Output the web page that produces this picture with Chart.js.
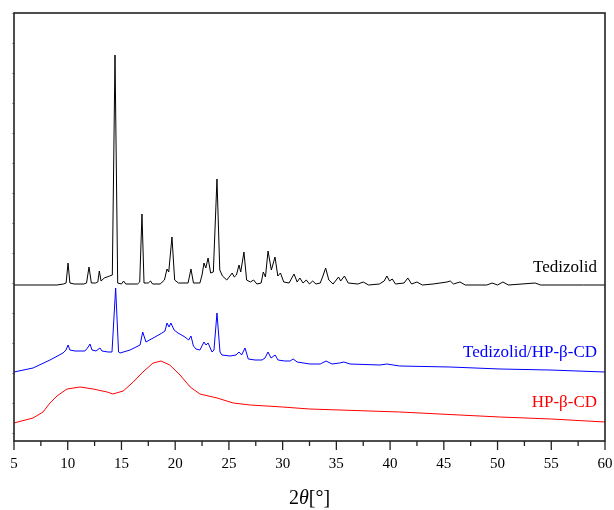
<!DOCTYPE html>
<html>
<head>
<meta charset="utf-8">
<script src="https://cdn.jsdelivr.net/npm/chart.js@4.4.0/dist/chart.umd.min.js"></script>
<style>
  html, body { margin: 0; padding: 0; background: #fff; }
  #wrap { width: 614px; height: 510px; }
</style>
</head>
<body>
<div id="wrap"><canvas id="xrd_chart" width="614" height="510"></canvas></div>
<script>
// 2theta positions and intensities (arbitrary units, stacked traces as plotted)
const tedizolid_2theta = [5.0, 9.0, 9.6, 9.85, 10.03, 10.2, 10.6, 11.5, 11.75, 11.98, 12.2, 12.6, 12.8, 12.94, 13.1, 13.4, 13.9, 14.15, 14.4, 14.65,
    15.0, 15.2, 15.4, 16.5, 16.7, 16.91, 17.1, 17.5, 17.7, 17.9, 18.6, 19.0, 19.24, 19.4, 19.7, 19.95, 20.3, 21.2, 21.47, 21.7,
    22.3, 22.5, 22.68, 22.85, 23.06, 23.3, 23.55, 23.89, 24.15, 24.4, 24.8, 25.1, 25.3, 25.5, 25.7, 25.94, 26.1, 26.4, 26.65, 27.0,
    27.3, 27.6, 28.0, 28.2, 28.4, 28.64, 28.95, 29.29, 29.55, 29.8, 30.1, 30.6, 31.06, 31.35, 31.6, 31.9, 32.2, 32.5, 32.8, 33.1,
    33.5, 33.75, 34.0, 34.3, 34.7, 35.2, 35.4, 35.75, 36.1, 37.0, 37.5, 38.0, 39.0, 39.45, 39.7, 39.95, 40.2, 40.5, 41.3, 41.65,
    42.0, 42.5, 43.0, 44.0, 45.3, 45.6, 45.9, 46.5, 47.0, 49.0, 49.5, 50.0, 50.5, 51.0, 53.5, 54.0, 58.0, 60.0];
const tedizolid_counts = [156, 156, 157, 158, 178, 158, 157, 157, 158, 174, 158, 158, 159, 170, 160, 163, 165, 166, 386, 158,
    157, 160, 157, 157, 159, 227, 158, 158, 160, 157, 157, 161, 172, 169, 204, 161, 158, 158, 172, 158,
    158, 166, 178, 173, 183, 168, 169, 262, 171, 165, 161, 165, 168, 164, 166, 176, 169, 189, 161, 159,
    161, 157, 158, 169, 164, 190, 171, 184, 165, 168, 159, 158, 167, 159, 163, 158, 161, 157, 160, 157,
    158, 165, 173, 161, 157, 164, 160, 165, 158, 157, 159, 156, 157, 160, 165, 160, 162, 157, 158, 163,
    157, 159, 156, 157, 159, 160, 157, 159, 156, 156, 158, 156, 159, 156, 158, 156, 156, 156];

const complex_2theta = [5.0, 6.77, 8.35, 9.56, 9.84, 10.03, 10.2, 10.68, 11.6, 11.84, 12.07, 12.26, 12.63, 13.0, 13.19, 13.75, 14.12, 14.46, 14.73, 14.87,
    15.8, 16.73, 16.98, 17.28, 18.12, 18.77, 19.05, 19.24, 19.43, 19.6, 19.9, 20.26, 20.91, 21.25, 21.47, 21.7, 21.94, 22.3, 22.68, 22.87,
    23.06, 23.43, 23.61, 23.89, 24.17, 24.35, 25.1, 25.66, 25.94, 26.18, 26.5, 26.8, 27.43, 28.08, 28.36, 28.64, 28.92, 29.3, 29.57, 30.2,
    30.7, 30.98, 31.35, 32.55, 33.5, 34.04, 34.6, 35.3, 35.7, 36.27, 39.06, 39.7, 40.9, 45.58, 50.23, 54.88, 60.0];
const complex_counts = [69, 73, 81, 88, 91, 96, 91, 90, 90, 93, 97, 91, 90, 93, 90, 89, 89, 153, 89, 88,
    91, 96, 109, 99, 104, 108, 110, 118, 114, 118, 111, 108, 104, 101, 105, 95, 92, 91, 99, 96,
    98, 89, 91, 128, 89, 86, 85, 86, 89, 86, 93, 82, 81, 81, 83, 89, 83, 86, 81, 80,
    80, 82, 79, 77, 77, 80, 77, 78, 79, 77, 76, 77, 75, 74, 72, 71, 69];

const hpbcd_2theta = [5.0, 6.77, 7.7, 8.35, 9.0, 9.93, 11.15, 12.36, 13.67, 14.2, 15.16, 16.1, 17.0, 17.94, 18.68, 19.5, 20.45, 21.4, 22.3, 23.9,
    25.4, 27.0, 30.0, 32.5, 40.9, 50.2, 55.0, 60.0];
const hpbcd_counts = [18, 23, 29, 38, 45, 52, 54, 52, 49, 47, 50, 59, 69, 78, 80, 76, 66, 54, 47, 43,
    38, 36, 34, 32, 29, 24, 22, 19];

const series_names = ["Tedizolid", "Tedizolid/HP-\u03b2-CD", "HP-\u03b2-CD"];
const series_colors = ["#000000", "#0000ff", "#ff0000"];
const x_ticks = [5, 10, 15, 20, 25, 30, 35, 40, 45, 50, 55, 60];

function to_points(xs, ys) {
    return xs.map(function (x, i) { return {x: x, y: ys[i]}; });
}

const serif = "'Liberation Serif', 'Times New Roman', serif";

// frame, ticks, trace labels and axis title
const decor_plugin = {
    id: "decor",
    afterDraw: function (chart) {
        const ctx = chart.ctx;
        const area = chart.chartArea;
        const xs = chart.scales.x;
        const ys = chart.scales.y;
        ctx.save();

        // faint left ticks
        ctx.strokeStyle = "#aaaaaa";
        ctx.lineWidth = 1;
        for (let v = 8; v <= 428; v += 30) {
            const py = Math.round(ys.getPixelForValue(v)) + 0.5;
            ctx.beginPath();
            ctx.moveTo(area.left - 2, py);
            ctx.lineTo(area.left + 1, py);
            ctx.stroke();
        }

        // bottom ticks, major and minor
        ctx.strokeStyle = "#222222";
        ctx.lineWidth = 1.3;
        for (let v = 5; v <= 60; v += 2.5) {
            const px = xs.getPixelForValue(v);
            const len = (v % 5 === 0) ? 9 : 5;
            ctx.beginPath();
            ctx.moveTo(px, area.bottom);
            ctx.lineTo(px, area.bottom + len);
            ctx.stroke();
        }

        // frame
        ctx.lineWidth = 1.6;
        ctx.strokeRect(area.left, area.top, area.right - area.left, area.bottom - area.top);

        // trace labels
        ctx.font = "17px " + serif;
        ctx.textAlign = "right";
        ctx.textBaseline = "alphabetic";
        const label_y = [272, 357, 407];
        for (let i = 0; i < series_names.length; i++) {
            ctx.fillStyle = series_colors[i];
            ctx.fillText(series_names[i], 597, label_y[i]);
        }

        // axis title 2θ[°]
        ctx.fillStyle = "#000000";
        ctx.textAlign = "left";
        const parts = [["2", "20px " + serif], ["\u03b8", "italic 20px " + serif], ["[\u00b0]", "20px " + serif]];
        let total = 0;
        parts.forEach(function (p) { ctx.font = p[1]; total += ctx.measureText(p[0]).width; });
        let tx = (area.left + area.right) / 2 - total / 2;
        parts.forEach(function (p) {
            ctx.font = p[1];
            ctx.fillText(p[0], tx, 504);
            tx += ctx.measureText(p[0]).width;
        });
        ctx.restore();
    }
};

const xrd_chart = new Chart(document.getElementById("xrd_chart").getContext("2d"), {
    type: "line",
    data: {
        datasets: [
            {label: series_names[0], data: to_points(tedizolid_2theta, tedizolid_counts), borderColor: series_colors[0]},
            {label: series_names[1], data: to_points(complex_2theta, complex_counts), borderColor: series_colors[1]},
            {label: series_names[2], data: to_points(hpbcd_2theta, hpbcd_counts), borderColor: series_colors[2]}
        ]
    },
    options: {
        responsive: false,
        animation: false,
        events: [],
        layout: {padding: {left: 14, right: 9, top: 13, bottom: 0}},
        elements: {
            line: {borderWidth: 1, tension: 0},
            point: {radius: 0}
        },
        plugins: {
            legend: {display: false},
            tooltip: {enabled: false}
        },
        scales: {
            x: {
                type: "linear",
                min: 5,
                max: 60,
                afterBuildTicks: function (scale) {
                    scale.ticks = x_ticks.map(function (v) { return {value: v}; });
                },
                afterFit: function (scale) {
                    scale.height = 69;
                    scale.paddingLeft = 0;
                    scale.paddingRight = 0;
                },
                grid: {display: false, drawTicks: false},
                border: {display: false},
                ticks: {
                    padding: 14,
                    maxRotation: 0,
                    autoSkip: false,
                    color: "#000000",
                    font: {family: serif, size: 15}
                }
            },
            y: {
                display: false,
                min: 0,
                max: 428
            }
        }
    },
    plugins: [decor_plugin]
});
</script>
</body>
</html>
